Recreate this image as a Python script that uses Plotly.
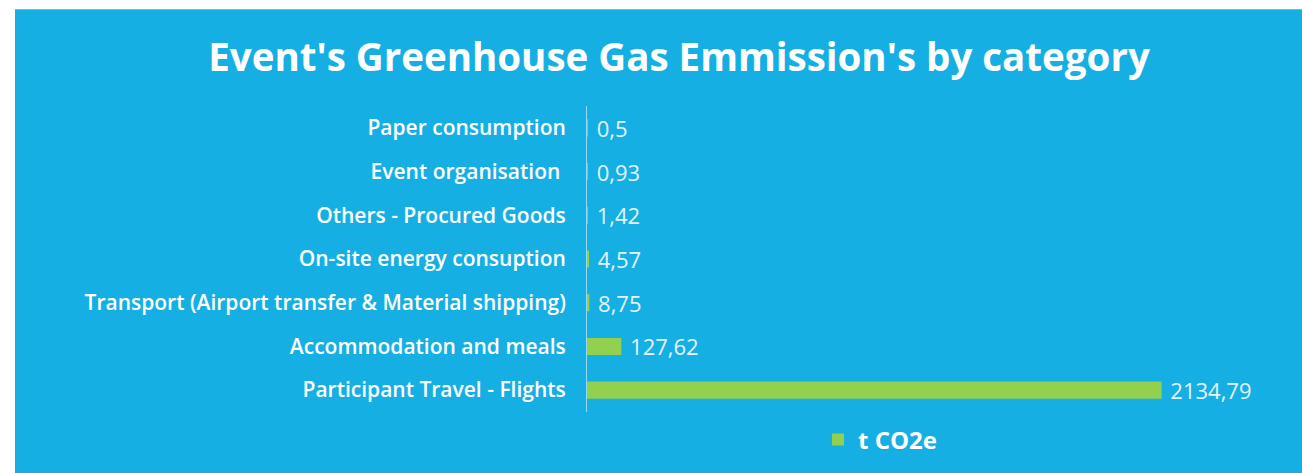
import plotly.graph_objects as go

categories = [
    "Paper consumption",
    "Event organisation\u00a0",
    "Others - Procured Goods",
    "On-site energy consuption",
    "Transport (Airport transfer & Material shipping)",
    "Accommodation and meals",
    "Participant Travel - Flights",
]
values = [0.5, 0.93, 1.42, 4.57, 8.75, 127.62, 2134.79]
value_labels = [str(v).replace(".", ",") for v in values]
series_name = "t CO2e"
title_text = "Event's Greenhouse Gas Emmission's by category"

BLUE = "#15AFE4"
GREEN = "#92D050"

W, H = 1302, 473
ML, MR, MT, MB = 587, 69, 106, 60

fig = go.Figure()
fig.add_trace(go.Bar(
    y=categories,
    x=values,
    orientation="h",
    name=series_name,
    marker=dict(color=GREEN, line=dict(width=0)),
    text=["\u00a0" + t for t in value_labels],
    textposition="outside",
    constraintext="none",
    cliponaxis=False,
    textfont=dict(family="Open Sans", size=22, color="#E4F5FC"),
    showlegend=True,
))

pw = W - ML - MR
ph = H - MT - MB

fig.update_layout(
    width=W, height=H,
    margin=dict(l=ML, r=MR, t=MT, b=MB, pad=0),
    paper_bgcolor=BLUE,
    plot_bgcolor=BLUE,
    bargap=0.61,
    title=dict(
        text="<b>" + title_text + "</b>",
        x=679 / W, xanchor="center",
        y=1 - 58 / H, yanchor="middle",
        font=dict(family="Open Sans", size=38.5, color="white"),
    ),
    xaxis=dict(visible=False, range=[0, 2400], fixedrange=True),
    yaxis=dict(
        autorange="reversed",
        showline=True, linecolor="rgba(255,255,255,0.55)", linewidth=1,
        showgrid=False, zeroline=False, ticks="",
        ticklabelstandoff=16,
        tickfont=dict(family="Open Sans", size=21, color="white", weight=600),
        fixedrange=True,
    ),
    legend=dict(
        orientation="h",
        x=(818 - ML) / pw, xanchor="left",
        y=-(440 - (MT + ph)) / ph, yanchor="middle",
        font=dict(family="Open Sans", size=24, color="white", weight=700),
        bgcolor="rgba(0,0,0,0)",
    ),
    shapes=[
        dict(type="rect", xref="paper", yref="paper",
             x0=-ML / pw - 0.01, x1=(15 - ML) / pw, y0=-MB / ph - 0.01, y1=1 + MT / ph + 0.01,
             fillcolor="white", line=dict(width=0), layer="above"),
        dict(type="rect", xref="paper", yref="paper",
             x0=-ML / pw - 0.01, x1=1 + MR / pw + 0.01, y0=1 + (MT - 9) / ph, y1=1 + MT / ph + 0.01,
             fillcolor="white", line=dict(width=0), layer="above"),
    ],
)

fig.write_html("out.html", config={"displayModeBar": False},
               post_script="document.body.style.margin='0';")
